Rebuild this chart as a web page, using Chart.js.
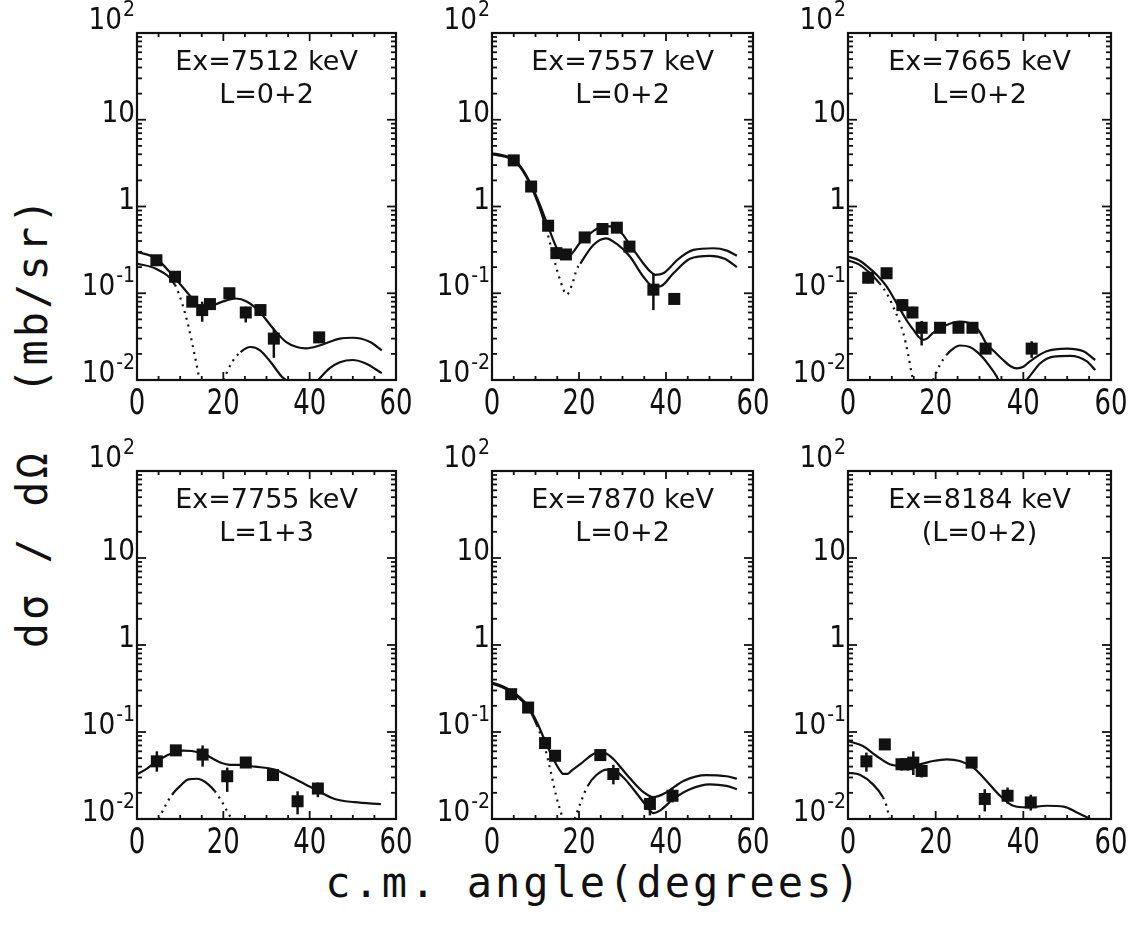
<!DOCTYPE html>
<html>
<head>
<meta charset="utf-8">
<script src="https://cdn.jsdelivr.net/npm/chart.js@4.4.1/dist/chart.umd.min.js"></script>
<style>
  body { margin:0; background:#fff; }
  #wrap { position:relative; width:1129px; height:927px; overflow:hidden; background:#fff; }
  #wrap canvas { position:absolute; }
  .ttl { position:absolute; font-family:'DejaVu Sans Mono', monospace; font-size:42px; line-height:42px;
         letter-spacing:3px; white-space:pre; color:#111; }
  #ytitle { left:33px; top:422px; transform:translate(-50%,-50%) rotate(-90deg); }
  #xtitle { left:594px; top:862px; transform:translateX(-50%); }
</style>
</head>
<body>
<div id="wrap">
  <div class="ttl" id="ytitle">dσ / dΩ  (mb/sr)</div>
  <div class="ttl" id="xtitle">c.m. angle(degrees)</div>
</div>
<script>
// ---- data ----
const energies = ['7512', '7557', '7665', '7755', '7870', '8184'];
const waves    = ['L=0+2', 'L=0+2', 'L=0+2', 'L=1+3', 'L=0+2', '(L=0+2)'];

const xTicks    = [0, 20, 40, 60];
const yTickVals = [100, 10, 1, 0.1, 0.01];
const yTickBase = ['10', '10', '1', '10', '10'];
const yTickExp  = ['2', '', '', '-1', '-2'];

// Ex = 7512 keV
const ang7512 = [4.5, 8.8, 12.8, 15.1, 16.9, 21.4, 25.2, 28.6, 31.7, 42.2];
const sig7512 = [0.24, 0.155, 0.080, 0.064, 0.075, 0.100, 0.060, 0.064, 0.030, 0.031];
const lo7512  = [0.215, 0.14, 0.07, 0.047, 0.066, 0.09, 0.046, 0.056, 0.018, 0.028];
const hi7512  = [0.265, 0.17, 0.09, 0.08, 0.085, 0.11, 0.07, 0.072, 0.039, 0.034];
const fitAng7512 = [0, 4.5, 8.8, 12.8, 15.1, 17, 19.8, 22.9, 25.5, 28.3, 31.4, 34.5, 37, 39.2, 42.3, 47, 50, 54, 56.7];
const fit7512    = [0.30, 0.25, 0.149, 0.087, 0.063, 0.070, 0.080, 0.087, 0.080, 0.062, 0.040, 0.0275, 0.024, 0.0232, 0.025, 0.030, 0.0307, 0.0275, 0.022];
const cmpAng7512 = [0, 4.5, 8.8, 10.5, 12, 13.3, 14.5, 17, 20, 22, 24, 26.3, 28.5, 31, 33.5, 34.5, 38, 42, 44.5, 47, 50, 53, 56.7];
const cmp7512    = [0.22, 0.19, 0.125, 0.075, 0.04, 0.02, 0.01, null, 0.01, 0.016, 0.021, 0.024, 0.022, 0.016, 0.011, 0.01, null, 0.01, 0.0135, 0.016, 0.017, 0.0155, 0.012];

// Ex = 7557 keV
const ang7557 = [5.0, 9.0, 12.9, 14.8, 17.0, 21.3, 25.4, 28.7, 31.6, 37.1, 41.9];
const sig7557 = [3.4, 1.7, 0.60, 0.29, 0.28, 0.44, 0.55, 0.57, 0.345, 0.11, 0.086];
const lo7557  = [3.1, 1.55, 0.54, 0.26, 0.25, 0.40, 0.50, 0.52, 0.31, 0.064, 0.086];
const hi7557  = [3.7, 1.85, 0.66, 0.32, 0.31, 0.48, 0.60, 0.62, 0.38, 0.17, 0.086];
const fitAng7557 = [0, 2.5, 5, 7, 9, 11, 12.9, 14.9, 16.5, 17.5, 18.7, 20, 21.8, 23.5, 25.6, 27.9, 30, 31.7, 33.3, 34.8, 36.3, 37.5, 39.4, 41, 42.5, 46.3, 50.9, 54, 56.3];
const fit7557    = [4.1, 3.9, 3.5, 2.7, 1.78, 1.05, 0.59, 0.33, 0.265, 0.265, 0.30, 0.37, 0.45, 0.53, 0.59, 0.59, 0.48, 0.36, 0.28, 0.22, 0.18, 0.163, 0.17, 0.20, 0.24, 0.316, 0.33, 0.31, 0.27];
const cmpAng7557 = [0, 2.5, 5, 7, 9, 11, 12.5, 14, 15.5, 17.2, 18.5, 19.5, 20.3, 23.3, 26.2, 28.7, 31.7, 34.8, 37.1, 38.6, 41.7, 45.5, 50.1, 53.5, 56.3];
const cmp7557    = [4.0, 3.8, 3.4, 2.6, 1.7, 0.95, 0.55, 0.28, 0.15, 0.097, 0.13, 0.19, 0.22, 0.36, 0.43, 0.37, 0.265, 0.155, 0.12, 0.12, 0.17, 0.25, 0.27, 0.25, 0.20];

// Ex = 7665 keV
const ang7665 = [4.6, 8.8, 12.4, 14.7, 16.8, 21.0, 25.2, 28.4, 31.4, 41.9];
const sig7665 = [0.151, 0.17, 0.073, 0.060, 0.040, 0.040, 0.040, 0.040, 0.023, 0.023];
const lo7665  = [0.13, 0.16, 0.062, 0.052, 0.025, 0.035, 0.035, 0.035, 0.021, 0.018];
const hi7665  = [0.175, 0.18, 0.085, 0.07, 0.048, 0.046, 0.046, 0.046, 0.025, 0.028];
const fitAng7665 = [0, 2.5, 4.6, 6.7, 8.8, 10.6, 12.4, 13.7, 14.9, 16, 17, 18, 19.4, 22.5, 25.5, 28.6, 30.2, 31.6, 33.5, 35.4, 37, 38.5, 40, 41.5, 45.3, 49.9, 53.7, 56.4];
const fit7665    = [0.265, 0.24, 0.20, 0.16, 0.12, 0.085, 0.059, 0.046, 0.038, 0.032, 0.029, 0.030, 0.035, 0.043, 0.047, 0.043, 0.035, 0.026, 0.021, 0.017, 0.0145, 0.0136, 0.0142, 0.0164, 0.0214, 0.023, 0.0214, 0.017];
const cmpAng7665 = [0, 2.5, 4.6, 7.2, 8.8, 10.3, 12.6, 13.7, 14.5, 14.9, 17, 19.4, 21, 22.5, 24, 25.5, 27.8, 29.5, 30.9, 32.5, 33.9, 34.3, 38, 40.8, 42, 43.8, 46.9, 50.7, 54.5, 56.4];
const cmp7665    = [0.24, 0.215, 0.178, 0.13, 0.10, 0.07, 0.035, 0.02, 0.012, 0.01, null, 0.01, 0.015, 0.0195, 0.023, 0.025, 0.024, 0.021, 0.0178, 0.014, 0.011, 0.01, null, 0.01, 0.012, 0.0155, 0.0186, 0.019, 0.0164, 0.013];

// Ex = 7755 keV
const ang7755 = [4.6, 9.0, 15.2, 20.9, 25.2, 31.5, 37.2, 41.9];
const sig7755 = [0.046, 0.0615, 0.055, 0.031, 0.0446, 0.032, 0.016, 0.0224];
const lo7755  = [0.035, 0.057, 0.040, 0.0205, 0.042, 0.0275, 0.0113, 0.0178];
const hi7755  = [0.060, 0.067, 0.070, 0.039, 0.048, 0.0366, 0.0208, 0.0262];
const fitAng7755 = [0, 2.3, 4.6, 6.7, 8.8, 10.8, 12.7, 15.8, 17.7, 19.6, 21.5, 23.5, 27.3, 31.9, 34.2, 36.5, 41.2, 45.8, 50.4, 56.5];
const fit7755    = [0.0326, 0.038, 0.046, 0.053, 0.059, 0.061, 0.0605, 0.055, 0.049, 0.044, 0.042, 0.042, 0.040, 0.037, 0.033, 0.029, 0.022, 0.017, 0.0156, 0.0148];
const cmpAng7755 = [5, 6.5, 8.1, 10, 11.9, 13.8, 15, 16.5, 18, 19.6, 21, 21.9];
const cmp7755    = [0.01, 0.014, 0.019, 0.024, 0.0286, 0.029, 0.028, 0.025, 0.021, 0.016, 0.012, 0.01];

// Ex = 7870 keV
const ang7870 = [4.4, 8.3, 12.2, 14.5, 24.9, 27.9, 36.3, 41.5];
const sig7870 = [0.272, 0.191, 0.0746, 0.0533, 0.0543, 0.0329, 0.0149, 0.0185];
const lo7870  = [0.25, 0.175, 0.068, 0.045, 0.051, 0.025, 0.011, 0.0155];
const hi7870  = [0.295, 0.21, 0.082, 0.062, 0.058, 0.042, 0.018, 0.022];
const fitAng7870 = [0, 2.2, 4.4, 6.4, 8.3, 10.3, 12.2, 13.4, 14.5, 15.5, 16.4, 17.3, 18.3, 20.3, 23.3, 25.2, 27.9, 29.8, 31.8, 34.8, 37.1, 40.2, 44, 49.3, 53.9, 56.3];
const fit7870    = [0.37, 0.34, 0.298, 0.25, 0.20, 0.13, 0.079, 0.058, 0.045, 0.037, 0.033, 0.033, 0.036, 0.0427, 0.056, 0.059, 0.049, 0.038, 0.029, 0.0204, 0.0178, 0.0204, 0.0274, 0.032, 0.031, 0.029];
const cmpAng7870 = [0, 2.2, 4.4, 6.4, 8.3, 10.3, 12.2, 13.5, 14.8, 16.3, 17.5, 19, 20.5, 22, 24, 26.4, 28.7, 30.5, 32.5, 35.6, 37.1, 38.6, 41.7, 45.5, 50.1, 53.9, 56.3];
const cmp7870    = [0.36, 0.33, 0.29, 0.24, 0.19, 0.12, 0.065, 0.035, 0.018, 0.01, null, 0.01, 0.016, 0.024, 0.032, 0.037, 0.035, 0.029, 0.022, 0.014, 0.0117, 0.0125, 0.017, 0.022, 0.025, 0.024, 0.022];

// Ex = 8184 keV
const ang8184 = [4.2, 8.4, 12.2, 13.7, 14.9, 16.8, 28.2, 31.2, 36.4, 41.7];
const sig8184 = [0.046, 0.072, 0.0426, 0.0426, 0.0445, 0.0357, 0.0445, 0.017, 0.0185, 0.0155];
const lo8184  = [0.035, 0.068, 0.036, 0.036, 0.032, 0.030, 0.041, 0.0122, 0.015, 0.0125];
const hi8184  = [0.058, 0.076, 0.050, 0.050, 0.060, 0.042, 0.048, 0.022, 0.023, 0.019];
const fitAng8184 = [0, 3.4, 6.5, 9.5, 12.2, 16.4, 19.4, 22.5, 25.5, 28.6, 31.6, 34.7, 37.7, 40.8, 45.4, 49.2, 52.2, 55.3];
const fit8184    = [0.0785, 0.069, 0.053, 0.0426, 0.0407, 0.0426, 0.0464, 0.0485, 0.0464, 0.039, 0.0274, 0.0185, 0.0142, 0.0136, 0.0142, 0.0139, 0.0119, 0.010];
const cmpAng8184 = [0, 2.7, 5.7, 8, 8.8, 9.5];
const cmp8184    = [0.034, 0.0322, 0.025, 0.0177, 0.014, 0.01];

// ---- layout: plot-area boxes [left, top, right, bottom] ----
const panels = [
  {box:[137, 33, 396, 380],   ang:ang7512, sig:sig7512, lo:lo7512, hi:hi7512, fa:fitAng7512, fv:fit7512, ca:cmpAng7512, cv:cmp7512, dots:[[8.8, 24]]},
  {box:[492, 33, 753, 380],   ang:ang7557, sig:sig7557, lo:lo7557, hi:hi7557, fa:fitAng7557, fv:fit7557, ca:cmpAng7557, cv:cmp7557, dots:[[12.5, 20.3]]},
  {box:[848, 33, 1111, 380],  ang:ang7665, sig:sig7665, lo:lo7665, hi:hi7665, fa:fitAng7665, fv:fit7665, ca:cmpAng7665, cv:cmp7665, dots:[[7.2, 23]]},
  {box:[137, 471, 396, 819],  ang:ang7755, sig:sig7755, lo:lo7755, hi:hi7755, fa:fitAng7755, fv:fit7755, ca:cmpAng7755, cv:cmp7755, dots:[[0, 8.1], [18, 30]]},
  {box:[492, 471, 753, 819],  ang:ang7870, sig:sig7870, lo:lo7870, hi:hi7870, fa:fitAng7870, fv:fit7870, ca:cmpAng7870, cv:cmp7870, dots:[[10.3, 23]]},
  {box:[848, 471, 1111, 819], ang:ang8184, sig:sig8184, lo:lo8184, hi:hi8184, fa:fitAng8184, fv:fit8184, ca:cmpAng8184, cv:cmp8184, dots:[[7.9, 12]]}
];
const PAD = {left:110, right:30, top:40, bottom:45};
const INK = '#111';

const toXY = (xs, ys) => xs.map((x, i) => ({x, y: ys[i]}));

function txt(ctx, s, x, y, size, sx, align) {
  ctx.save();
  ctx.translate(x, y);
  ctx.scale(sx, 1);
  ctx.font = size + 'px "DejaVu Sans", sans-serif';
  ctx.textAlign = align;
  ctx.textBaseline = 'alphabetic';
  ctx.fillText(s, 0, 0);
  const w = ctx.measureText(s).width * sx;
  ctx.restore();
  return w;
}

// error bars, drawn through the chart's own scales
const errBars = {
  id: 'errBars',
  afterDatasetsDraw(chart) {
    const {ctx, scales:{x, y}} = chart;
    chart.data.datasets.forEach(ds => {
      if (!ds.errLo) return;
      ctx.save();
      ctx.strokeStyle = INK; ctx.lineWidth = 2.5;
      ds.data.forEach((p, i) => {
        const px = x.getPixelForValue(p.x);
        ctx.beginPath();
        ctx.moveTo(px, y.getPixelForValue(ds.errLo[i]));
        ctx.lineTo(px, y.getPixelForValue(ds.errHi[i]));
        ctx.stroke();
      });
      ctx.restore();
    });
  }
};

// frame, inward ticks, tick labels, panel caption
const frame = {
  id: 'frame',
  afterDraw(chart, args, opts) {
    const {ctx, chartArea:{left, right, top, bottom}, scales:{x, y}} = chart;
    ctx.save();
    ctx.strokeStyle = INK; ctx.fillStyle = INK; ctx.lineWidth = 2.2;
    ctx.strokeRect(left, top, right - left, bottom - top);
    const seg = (x0, y0, x1, y1) => { ctx.beginPath(); ctx.moveTo(x0, y0); ctx.lineTo(x1, y1); ctx.stroke(); };
    ctx.lineWidth = 1.8;
    for (let e = -2; e <= 2; e++) {
      for (let k = 1; k <= 9; k++) {
        const v = k * Math.pow(10, e);
        if (v > 100.0001) break;
        const py = y.getPixelForValue(v);
        const len = k === 1 ? 9 : 5;
        seg(left, py, left + len, py);
        seg(right, py, right - len, py);
      }
    }
    for (let a = 0; a <= 60; a += 5) {
      const px = x.getPixelForValue(a);
      const len = a % 20 === 0 ? 8 : 4;
      seg(px, bottom, px, bottom - len);
      seg(px, top, px, top + len);
    }
    // y labels
    yTickVals.forEach((v, i) => {
      const py = y.getPixelForValue(v);
      const by = v === 100 ? py - 4 : py + 2;
      let xr = left - 2;
      if (yTickExp[i]) {
        const we = txt(ctx, yTickExp[i], xr, by - 13, 21, 0.9, 'right');
        xr -= we + 1;
      }
      txt(ctx, yTickBase[i], xr, by, 31, 0.85, 'right');
    });
    // x labels
    xTicks.forEach(a => txt(ctx, String(a), x.getPixelForValue(a), bottom + 34, 35, 0.74, 'center'));
    // caption
    const cx = (left + right) / 2;
    txt(ctx, opts.title, cx, top + 37, 27, 1, 'center');
    txt(ctx, opts.sub, cx, top + 70, 27, 1, 'center');
    ctx.restore();
  }
};

const wrap = document.getElementById('wrap');
panels.forEach((p, n) => {
  const [L, T, R, B] = p.box;
  const cv = document.createElement('canvas');
  cv.width = R - L + PAD.left + PAD.right;
  cv.height = B - T + PAD.top + PAD.bottom;
  cv.style.left = (L - PAD.left) + 'px';
  cv.style.top = (T - PAD.top) + 'px';
  cv.style.width = cv.width + 'px';
  cv.style.height = cv.height + 'px';
  wrap.appendChild(cv);

  const inDots = c => p.dots.some(r => c.p0.parsed.x >= r[0] - 1e-6 && c.p1.parsed.x <= r[1] + 1e-6);

  new Chart(cv, {
    type: 'line',
    data: {
      datasets: [
        {data: toXY(p.ang, p.sig), showLine:false, pointStyle:'rect', pointRadius:8.5,
         backgroundColor:INK, borderColor:INK, borderWidth:0, errLo:p.lo, errHi:p.hi},
        {data: toXY(p.fa, p.fv), borderColor:INK, borderWidth:2.2, pointRadius:0,
         cubicInterpolationMode:'monotone', fill:false},
        {data: toXY(p.ca, p.cv), borderColor:INK, borderWidth:2.2, pointRadius:0, spanGaps:false,
         cubicInterpolationMode:'monotone', fill:false,
         segment:{borderDash: c => inDots(c) ? [2, 5] : undefined}}
      ]
    },
    options: {
      responsive:false, animation:false, devicePixelRatio:1,
      layout:{padding:PAD},
      plugins:{
        legend:{display:false}, tooltip:{enabled:false},
        frame:{title:'Ex=' + energies[n] + ' keV', sub:waves[n]}
      },
      scales:{
        x:{type:'linear', min:0, max:60, display:false},
        y:{type:'logarithmic', min:0.01, max:100, display:false}
      }
    },
    plugins:[errBars, frame]
  });
});
</script>
</body>
</html>
